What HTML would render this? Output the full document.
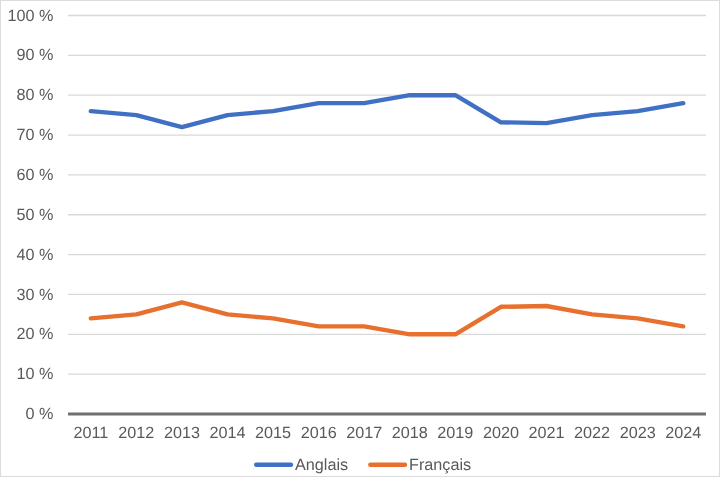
<!DOCTYPE html>
<html><head><meta charset="utf-8"><style>
html,body{margin:0;padding:0;background:#fff;}
svg{display:block;will-change:transform;}
text{text-rendering:geometricPrecision;font-family:"Liberation Sans",sans-serif;font-size:16.2px;fill:#595959;}
</style></head><body>
<svg width="720" height="477" viewBox="0 0 720 477">
<rect x="0.5" y="0.5" width="719" height="476" fill="#fff" stroke="#dcdcdc" stroke-width="1"/>
<line x1="68" y1="374.15" x2="706" y2="374.15" stroke="#d9d9d9" stroke-width="1.33"/>
<line x1="68" y1="334.30" x2="706" y2="334.30" stroke="#d9d9d9" stroke-width="1.33"/>
<line x1="68" y1="294.45" x2="706" y2="294.45" stroke="#d9d9d9" stroke-width="1.33"/>
<line x1="68" y1="254.60" x2="706" y2="254.60" stroke="#d9d9d9" stroke-width="1.33"/>
<line x1="68" y1="214.75" x2="706" y2="214.75" stroke="#d9d9d9" stroke-width="1.33"/>
<line x1="68" y1="174.90" x2="706" y2="174.90" stroke="#d9d9d9" stroke-width="1.33"/>
<line x1="68" y1="135.05" x2="706" y2="135.05" stroke="#d9d9d9" stroke-width="1.33"/>
<line x1="68" y1="95.20" x2="706" y2="95.20" stroke="#d9d9d9" stroke-width="1.33"/>
<line x1="68" y1="55.35" x2="706" y2="55.35" stroke="#d9d9d9" stroke-width="1.33"/>
<line x1="68" y1="15.50" x2="706" y2="15.50" stroke="#d9d9d9" stroke-width="1.33"/>
<line x1="68" y1="414.00" x2="706" y2="414.00" stroke="#707070" stroke-width="2.9"/>
<text x="53.5" y="419.10" text-anchor="end">0 %</text>
<text x="53.5" y="379.25" text-anchor="end">10 %</text>
<text x="53.5" y="339.40" text-anchor="end">20 %</text>
<text x="53.5" y="299.55" text-anchor="end">30 %</text>
<text x="53.5" y="259.70" text-anchor="end">40 %</text>
<text x="53.5" y="219.85" text-anchor="end">50 %</text>
<text x="53.5" y="180.00" text-anchor="end">60 %</text>
<text x="53.5" y="140.15" text-anchor="end">70 %</text>
<text x="53.5" y="100.30" text-anchor="end">80 %</text>
<text x="53.5" y="60.45" text-anchor="end">90 %</text>
<text x="53.5" y="20.60" text-anchor="end">100 %</text>
<text x="90.79" y="437.8" text-anchor="middle">2011</text>
<text x="136.36" y="437.8" text-anchor="middle">2012</text>
<text x="181.93" y="437.8" text-anchor="middle">2013</text>
<text x="227.50" y="437.8" text-anchor="middle">2014</text>
<text x="273.07" y="437.8" text-anchor="middle">2015</text>
<text x="318.64" y="437.8" text-anchor="middle">2016</text>
<text x="364.21" y="437.8" text-anchor="middle">2017</text>
<text x="409.79" y="437.8" text-anchor="middle">2018</text>
<text x="455.36" y="437.8" text-anchor="middle">2019</text>
<text x="500.93" y="437.8" text-anchor="middle">2020</text>
<text x="546.50" y="437.8" text-anchor="middle">2021</text>
<text x="592.07" y="437.8" text-anchor="middle">2022</text>
<text x="637.64" y="437.8" text-anchor="middle">2023</text>
<text x="683.21" y="437.8" text-anchor="middle">2024</text>
<polyline points="90.79,111.14 136.36,115.12 181.93,127.08 227.50,115.12 273.07,111.14 318.64,103.17 364.21,103.17 409.79,95.20 455.36,95.20 500.93,122.30 546.50,123.10 592.07,115.12 637.64,111.14 683.21,103.17" fill="none" stroke="#4070C4" stroke-width="4.4" stroke-linejoin="round" stroke-linecap="round"/>
<polyline points="90.79,318.36 136.36,314.38 181.93,302.42 227.50,314.38 273.07,318.36 318.64,326.33 364.21,326.33 409.79,334.30 455.36,334.30 500.93,306.80 546.50,306.01 592.07,314.38 637.64,318.36 683.21,326.33" fill="none" stroke="#E8702E" stroke-width="4.4" stroke-linejoin="round" stroke-linecap="round"/>
<line x1="256.2" y1="464.7" x2="291" y2="464.7" stroke="#4070C4" stroke-width="4.4" stroke-linecap="round"/>
<text x="295" y="470.2">Anglais</text>
<line x1="370.3" y1="464.7" x2="405" y2="464.7" stroke="#E8702E" stroke-width="4.4" stroke-linecap="round"/>
<text x="409" y="470.2">Français</text>
</svg>
</body></html>
